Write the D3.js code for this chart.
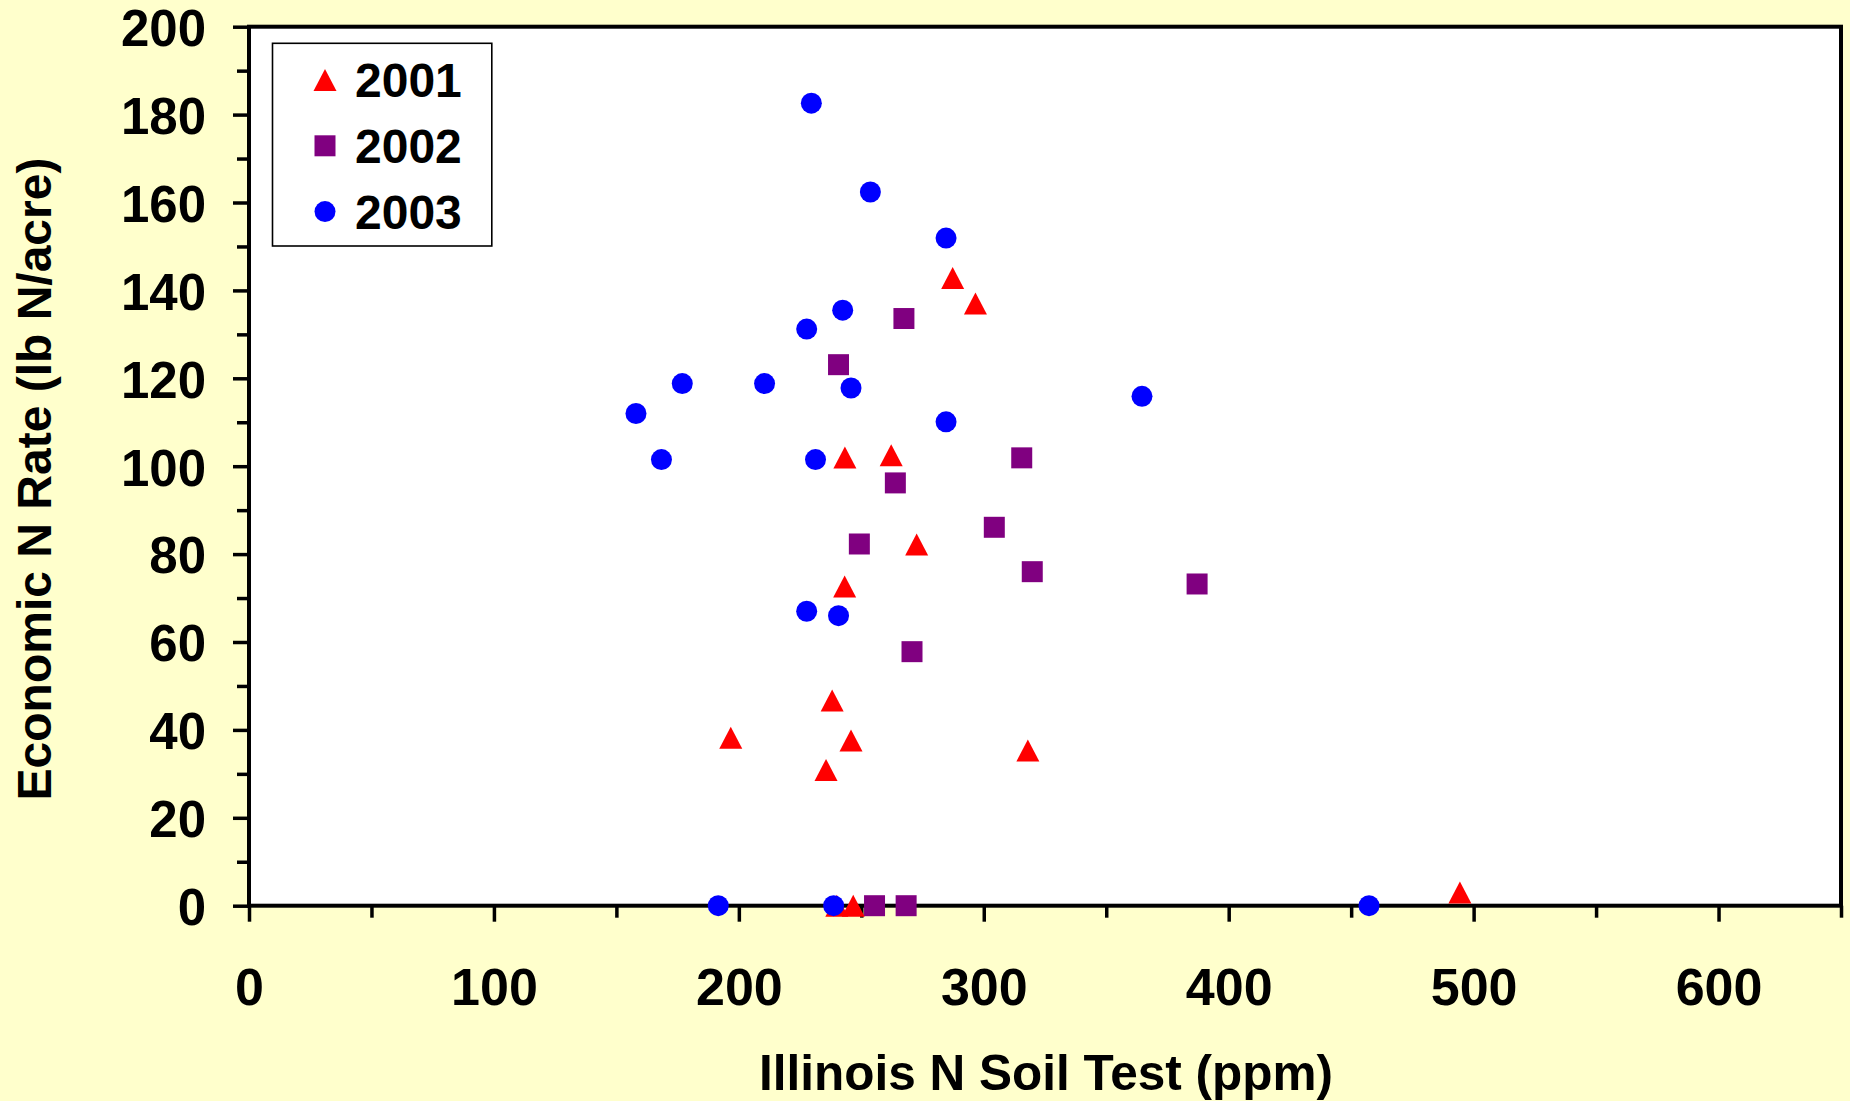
<!DOCTYPE html>
<html>
<head>
<meta charset="utf-8">
<script src="https://cdn.jsdelivr.net/npm/d3@7"></script>
<style>
  html, body { margin: 0; padding: 0; background: #FFFFCC; }
  svg { display: block; }
  text { font-family: "Liberation Sans", Arial, Helvetica, sans-serif; font-weight: bold; fill: #000; }
</style>
</head>
<body>
<svg id="chart" width="1850" height="1101"></svg>
<script>
// ---- data ----
const seriesNames = ["2001", "2002", "2003"];
const seriesColors = ["#FF0000", "#800080", "#0000FF"];

const x2001 = [287.3, 296.6, 243.3, 262.2, 272.6, 243.2, 238.1, 196.7, 245.8, 318.0, 235.6, 240.0, 246.7, 494.4];
const y2001 = [142.8, 137.0, 102.0, 102.5, 82.2, 72.6, 46.7, 38.2, 37.6, 35.3, 30.9, 0, 0, 3.0];

const x2002 = [267.4, 240.7, 315.5, 263.9, 304.3, 249.2, 319.8, 387.1, 270.7, 255.4, 268.3];
const y2002 = [133.6, 123.1, 101.9, 96.2, 86.1, 82.3, 76.0, 73.2, 57.8, 0, 0];

const x2003 = [229.6, 253.7, 284.6, 242.4, 227.7, 176.9, 210.5, 245.8, 364.6, 158.0, 284.6, 168.4, 231.3, 227.7, 240.7, 191.6, 238.7, 457.3];
const y2003 = [182.6, 162.4, 151.9, 135.5, 131.2, 118.8, 118.8, 117.8, 115.9, 112.0, 110.1, 101.5, 101.5, 67.0, 66.0, 0, 0, 0];

const xMajorTicks = [0, 100, 200, 300, 400, 500, 600];
const xMinorTicks = [50, 150, 250, 350, 450, 550, 650];
const yMajorTicks = [0, 20, 40, 60, 80, 100, 120, 140, 160, 180, 200];
const yMinorTicks = [10, 30, 50, 70, 90, 110, 130, 150, 170, 190];

const xTitle = "Illinois N Soil Test (ppm)";
const yTitle = "Economic N Rate (lb N/acre)";

// ---- layout ----
const L = 249, R = 1841, T = 26.7, B = 905.7;
const svg = d3.select("#chart");

const x = d3.scaleLinear().domain([0, 650]).range([L, R]);
const y = d3.scaleLinear().domain([0, 200]).range([B, T]);

// plot area
svg.append("rect")
  .attr("x", L).attr("y", T).attr("width", R - L).attr("height", B - T)
  .attr("fill", "#FFFFFF");

// axes
function styleAxis(g) {
  g.select(".domain").remove();
  g.selectAll(".tick line").attr("stroke", "#000").attr("stroke-width", 3.5);
}
svg.append("g").attr("transform", `translate(${L},0)`)
  .call(d3.axisLeft(y).tickValues(yMinorTicks).tickSize(12).tickFormat(""))
  .call(styleAxis);
const gy = svg.append("g").attr("transform", `translate(${L},0)`)
  .call(d3.axisLeft(y).tickValues(yMajorTicks).tickSize(16).tickPadding(27).tickFormat(d3.format("d")))
  .call(styleAxis);
gy.selectAll("text").attr("dy", "0.37em").style("font-size", "51px")
  .style("font-family", "'Liberation Sans', Arial, sans-serif").style("font-weight", "bold").attr("fill", "#000");

svg.append("g").attr("transform", `translate(0,${B})`)
  .call(d3.axisBottom(x).tickValues(xMinorTicks).tickSize(12).tickFormat(""))
  .call(styleAxis);
const gx = svg.append("g").attr("transform", `translate(0,${B})`)
  .call(d3.axisBottom(x).tickValues(xMajorTicks).tickSize(16).tickFormat(d3.format("d")))
  .call(styleAxis);
gx.selectAll("text").attr("y", 99).attr("dy", 0).style("font-size", "52px")
  .style("font-family", "'Liberation Sans', Arial, sans-serif").style("font-weight", "bold").attr("fill", "#000");

// frame
svg.append("rect")
  .attr("x", L).attr("y", T).attr("width", R - L).attr("height", B - T)
  .attr("fill", "none").attr("stroke", "#000").attr("stroke-width", 4);

// markers
const triPath = "M0,-11L11.5,11L-11.5,11Z";
const sqPath = "M-10.5,-10.5H10.5V10.5H-10.5Z";
function circlePath(r) { return `M${-r},0A${r},${r} 0 1,0 ${r},0A${r},${r} 0 1,0 ${-r},0Z`; }
const shapes = [triPath, sqPath, circlePath(10.5)];

const series = [
  { xs: x2001, ys: y2001 },
  { xs: x2002, ys: y2002 },
  { xs: x2003, ys: y2003 }
];

series.forEach((s, i) => {
  const pts = s.xs.map((v, j) => ({ x: v, y: s.ys[j] }));
  svg.append("g").selectAll("path").data(pts).join("path")
    .attr("d", shapes[i])
    .attr("transform", d => `translate(${x(d.x)},${y(d.y)})`)
    .attr("fill", seriesColors[i]);
});

// legend
const lg = svg.append("g");
lg.append("rect").attr("x", 272.5).attr("y", 43.3).attr("width", 219.3).attr("height", 202.7)
  .attr("fill", "#FFFFFF").attr("stroke", "#000").attr("stroke-width", 1.6);
seriesNames.forEach((name, i) => {
  const cy = 80 + i * 65.8;
  lg.append("path").attr("d", shapes[i]).attr("transform", `translate(325,${cy})`).attr("fill", seriesColors[i]);
  lg.append("text").attr("x", 355).attr("y", cy + 17).style("font-size", "48px").text(name);
});

// titles
svg.append("text").attr("x", 1046).attr("y", 1090).attr("text-anchor", "middle")
  .style("font-size", "49.5px").text(xTitle);
svg.append("text").attr("transform", "translate(51,479) rotate(-90)").attr("text-anchor", "middle")
  .style("font-size", "48px").text(yTitle);
</script>
</body>
</html>
